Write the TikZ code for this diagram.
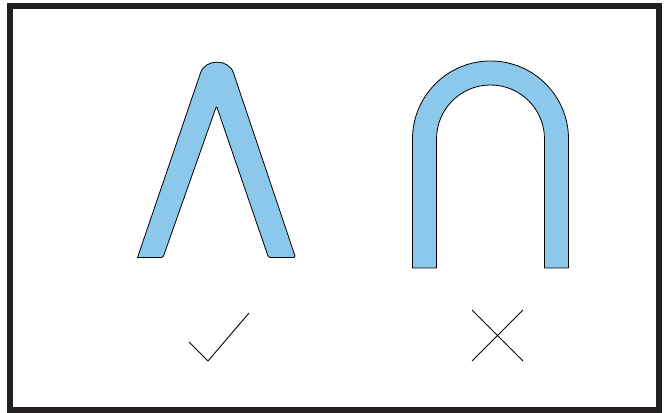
\documentclass[tikz,border=0pt]{standalone}
\definecolor{bluefill}{RGB}{139,200,236}
\definecolor{framecol}{RGB}{35,31,32}
\begin{document}
\begin{tikzpicture}[x=1pt,y=1pt,
  shapebody/.style={draw=black,line width=0.8pt,fill=bluefill,line join=round},
  mark line/.style={draw=black,line width=0.9pt},
  frameline/.style={draw=framecol,line width=5.5pt}]
\useasboundingbox (0,0) rectangle (668,412);
\draw[frameline] (10,2) rectangle (659,406);
% Lambda shape
\draw[shapebody] (137.5,154.5) [rounded corners=1.5pt] -- (163,154.5) [rounded corners=2pt] -- (216.5,306) [rounded corners=1.5pt] -- (268.5,154.5) -- (295.5,154.5) [sharp corners] -- (233.5,339) .. controls (229,353.5) and (205,353.5) .. (200.5,339) -- cycle;
% Arch shape
\draw[shapebody] (412.5,144) -- (412.5,273) arc[start angle=180,end angle=0,radius=78pt] -- (568.5,144) -- (544.5,144) -- (544.5,273) arc[start angle=0,end angle=180,radius=54pt] -- (436.5,144) -- cycle;
% check
\coordinate (c1) at (189,70);
\coordinate (c2) at (208,51);
\coordinate (c3) at (249,99);
\draw[mark line] (c1) -- (c2) -- (c3);
% cross
\coordinate (x1) at (472,102);
\coordinate (x2) at (523,51);
\coordinate (x3) at (523,102);
\coordinate (x4) at (472,51);
\draw[mark line] (x1) -- (x2);
\draw[mark line] (x3) -- (x4);
\end{tikzpicture}
\end{document}
